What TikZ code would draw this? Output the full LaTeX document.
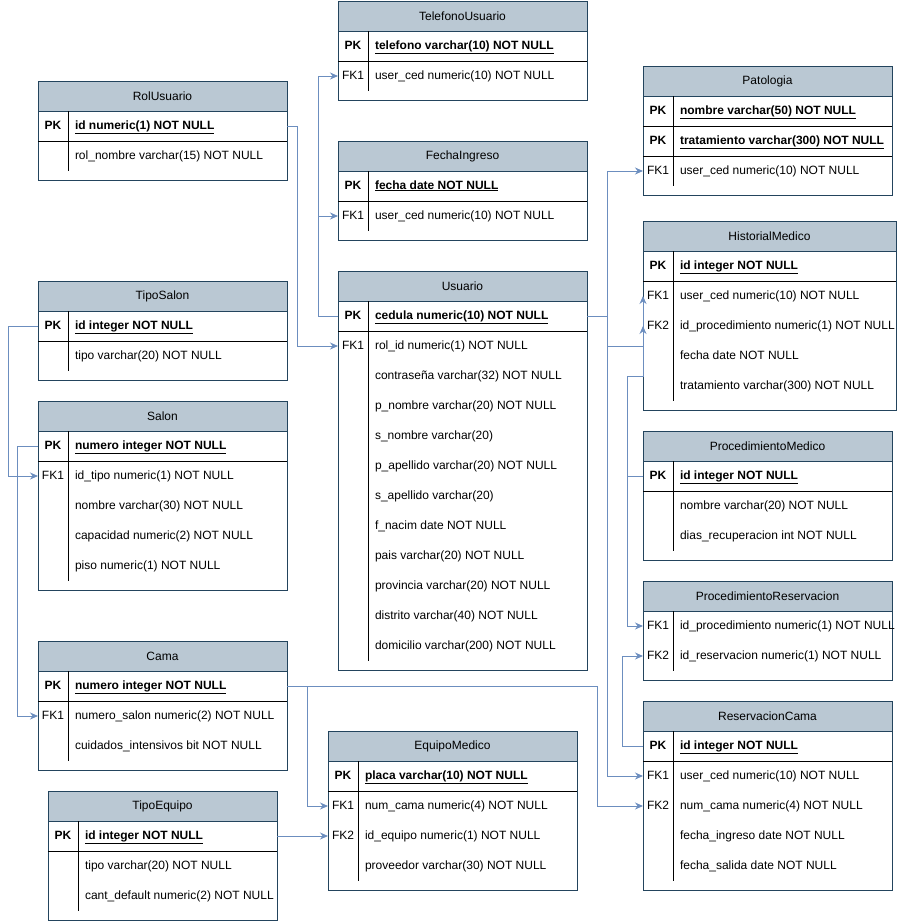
\documentclass[tikz,border=0pt]{standalone}
\usepackage{fontspec}
\setmainfont{Liberation Sans}
\usetikzlibrary{positioning,arrows.meta}

\definecolor{tblborder}{HTML}{23445D}
\definecolor{headfill}{HTML}{BAC8D3}
\definecolor{linkblue}{HTML}{6C8EBF}

\begin{document}
\begin{tikzpicture}[x=1pt, y=-1pt, font=\fontsize{12}{14}\selectfont,
  tbl/.style={draw=tblborder, fill=white, line width=1pt},
  head/.style={draw=tblborder, fill=headfill, line width=1pt, minimum height=30pt, inner sep=0pt, outer sep=0pt},
  key/.style={minimum width=30pt, minimum height=30pt, inner sep=0pt, outer sep=0pt, text height=9pt, text depth=3pt},
  cell/.style={inner xsep=7pt, inner ysep=0pt, outer sep=0pt, minimum height=30pt, text height=9pt, text depth=3pt},
  sep/.style={line width=1pt},
  link/.style={draw=linkblue, line width=1pt},
  linkarrow/.style={link, -{Stealth[length=8pt, width=7pt]}}]

\useasboundingbox (0,0) rectangle (898,921);

% TelefonoUsuario
\draw[tbl] (338,1) rectangle (587,100);
\node[head, minimum width=249pt] (telefono) at (462.5,16) {TelefonoUsuario};
\node[key, below=0pt of telefono.south west, anchor=north west] (telefono-pk) {\bfseries PK};
\node[cell, right=0pt of telefono-pk] (telefono-num) {\textbf{\underline{telefono varchar(10) NOT NULL}}};
\node[key, below=0pt of telefono-pk] (telefono-fk1) {FK1};
\node[cell, right=0pt of telefono-fk1] (telefono-ced) {user\_ced numeric(10) NOT NULL};
\draw[sep] (telefono-pk.south west) -- (telefono-pk.south west -| telefono.east);
\draw[sep] (telefono-pk.north east) -- (telefono-fk1.south east);

% RolUsuario
\draw[tbl] (38,81) rectangle (287,180);
\node[head, minimum width=249pt] (rol) at (162.5,96) {RolUsuario};
\node[key, below=0pt of rol.south west, anchor=north west] (rol-pk) {\bfseries PK};
\node[cell, right=0pt of rol-pk] (rol-id) {\textbf{\underline{id numeric(1) NOT NULL}}};
\node[key, below=0pt of rol-pk] (rol-r1) {};
\node[cell, right=0pt of rol-r1] (rol-nombre) {rol\_nombre varchar(15) NOT NULL};
\draw[sep] (rol-pk.south west) -- (rol-pk.south west -| rol.east);
\draw[sep] (rol-pk.north east) -- (rol-r1.south east);

% FechaIngreso
\draw[tbl] (338,141) rectangle (587,240);
\node[head, minimum width=249pt] (fecha) at (462.5,156) {FechaIngreso};
\node[key, below=0pt of fecha.south west, anchor=north west] (fecha-pk) {\bfseries PK};
\node[cell, right=0pt of fecha-pk] (fecha-date) {\textbf{\underline{fecha date NOT NULL}}};
\node[key, below=0pt of fecha-pk] (fecha-fk1) {FK1};
\node[cell, right=0pt of fecha-fk1] (fecha-ced) {user\_ced numeric(10) NOT NULL};
\draw[sep] (fecha-pk.south west) -- (fecha-pk.south west -| fecha.east);
\draw[sep] (fecha-pk.north east) -- (fecha-fk1.south east);

% Usuario
\draw[tbl] (338,271) rectangle (587,670);
\node[head, minimum width=249pt] (usuario) at (462.5,286) {Usuario};
\node[key, below=0pt of usuario.south west, anchor=north west] (usuario-pk) {\bfseries PK};
\node[cell, right=0pt of usuario-pk] (usuario-cedula) {\textbf{\underline{cedula numeric(10) NOT NULL}}};
\node[key, below=0pt of usuario-pk] (usuario-fk1) {FK1};
\node[cell, right=0pt of usuario-fk1] (usuario-rol) {rol\_id numeric(1) NOT NULL};
\node[key, below=0pt of usuario-fk1] (usuario-r2) {};
\node[cell, right=0pt of usuario-r2] (usuario-pass) {contraseña varchar(32) NOT NULL};
\node[key, below=0pt of usuario-r2] (usuario-r3) {};
\node[cell, right=0pt of usuario-r3] (usuario-pnom) {p\_nombre varchar(20) NOT NULL};
\node[key, below=0pt of usuario-r3] (usuario-r4) {};
\node[cell, right=0pt of usuario-r4] (usuario-snom) {s\_nombre varchar(20)};
\node[key, below=0pt of usuario-r4] (usuario-r5) {};
\node[cell, right=0pt of usuario-r5] (usuario-pape) {p\_apellido varchar(20) NOT NULL};
\node[key, below=0pt of usuario-r5] (usuario-r6) {};
\node[cell, right=0pt of usuario-r6] (usuario-sape) {s\_apellido varchar(20)};
\node[key, below=0pt of usuario-r6] (usuario-r7) {};
\node[cell, right=0pt of usuario-r7] (usuario-nacim) {f\_nacim date NOT NULL};
\node[key, below=0pt of usuario-r7] (usuario-r8) {};
\node[cell, right=0pt of usuario-r8] (usuario-pais) {pais varchar(20) NOT NULL};
\node[key, below=0pt of usuario-r8] (usuario-r9) {};
\node[cell, right=0pt of usuario-r9] (usuario-prov) {provincia varchar(20) NOT NULL};
\node[key, below=0pt of usuario-r9] (usuario-r10) {};
\node[cell, right=0pt of usuario-r10] (usuario-dist) {distrito varchar(40) NOT NULL};
\node[key, below=0pt of usuario-r10] (usuario-r11) {};
\node[cell, right=0pt of usuario-r11] (usuario-dom) {domicilio varchar(200) NOT NULL};
\draw[sep] (usuario-pk.south west) -- (usuario-pk.south west -| usuario.east);
\draw[sep] (usuario-pk.north east) -- (usuario-r11.south east);

% TipoSalon
\draw[tbl] (38,281) rectangle (287,380);
\node[head, minimum width=249pt] (tiposalon) at (162.5,296) {TipoSalon};
\node[key, below=0pt of tiposalon.south west, anchor=north west] (tiposalon-pk) {\bfseries PK};
\node[cell, right=0pt of tiposalon-pk] (tiposalon-id) {\textbf{\underline{id integer NOT NULL}}};
\node[key, below=0pt of tiposalon-pk] (tiposalon-r1) {};
\node[cell, right=0pt of tiposalon-r1] (tiposalon-tipo) {tipo varchar(20) NOT NULL};
\draw[sep] (tiposalon-pk.south west) -- (tiposalon-pk.south west -| tiposalon.east);
\draw[sep] (tiposalon-pk.north east) -- (tiposalon-r1.south east);

% Salon
\draw[tbl] (38,401) rectangle (287,590);
\node[head, minimum width=249pt] (salon) at (162.5,416) {Salon};
\node[key, below=0pt of salon.south west, anchor=north west] (salon-pk) {\bfseries PK};
\node[cell, right=0pt of salon-pk] (salon-num) {\textbf{\underline{numero integer NOT NULL}}};
\node[key, below=0pt of salon-pk] (salon-fk1) {FK1};
\node[cell, right=0pt of salon-fk1] (salon-tipo) {id\_tipo numeric(1) NOT NULL};
\node[key, below=0pt of salon-fk1] (salon-r2) {};
\node[cell, right=0pt of salon-r2] (salon-nombre) {nombre varchar(30) NOT NULL};
\node[key, below=0pt of salon-r2] (salon-r3) {};
\node[cell, right=0pt of salon-r3] (salon-cap) {capacidad numeric(2) NOT NULL};
\node[key, below=0pt of salon-r3] (salon-r4) {};
\node[cell, right=0pt of salon-r4] (salon-piso) {piso numeric(1) NOT NULL};
\draw[sep] (salon-pk.south west) -- (salon-pk.south west -| salon.east);
\draw[sep] (salon-pk.north east) -- (salon-r4.south east);

% Cama
\draw[tbl] (38,641) rectangle (287,770);
\node[head, minimum width=249pt] (cama) at (162.5,656) {Cama};
\node[key, below=0pt of cama.south west, anchor=north west] (cama-pk) {\bfseries PK};
\node[cell, right=0pt of cama-pk] (cama-num) {\textbf{\underline{numero integer NOT NULL}}};
\node[key, below=0pt of cama-pk] (cama-fk1) {FK1};
\node[cell, right=0pt of cama-fk1] (cama-salon) {numero\_salon numeric(2) NOT NULL};
\node[key, below=0pt of cama-fk1] (cama-r2) {};
\node[cell, right=0pt of cama-r2] (cama-cuid) {cuidados\_intensivos bit NOT NULL};
\draw[sep] (cama-pk.south west) -- (cama-pk.south west -| cama.east);
\draw[sep] (cama-pk.north east) -- (cama-r2.south east);

% TipoEquipo
\draw[tbl] (48,791) rectangle (277,920);
\node[head, minimum width=229pt] (tipoequipo) at (162.5,806) {TipoEquipo};
\node[key, below=0pt of tipoequipo.south west, anchor=north west] (tipoequipo-pk) {\bfseries PK};
\node[cell, right=0pt of tipoequipo-pk] (tipoequipo-id) {\textbf{\underline{id integer NOT NULL}}};
\node[key, below=0pt of tipoequipo-pk] (tipoequipo-r1) {};
\node[cell, right=0pt of tipoequipo-r1] (tipoequipo-tipo) {tipo varchar(20) NOT NULL};
\node[key, below=0pt of tipoequipo-r1] (tipoequipo-r2) {};
\node[cell, right=0pt of tipoequipo-r2] (tipoequipo-cant) {cant\_default numeric(2) NOT NULL};
\draw[sep] (tipoequipo-pk.south west) -- (tipoequipo-pk.south west -| tipoequipo.east);
\draw[sep] (tipoequipo-pk.north east) -- (tipoequipo-r2.south east);

% EquipoMedico
\draw[tbl] (328,731) rectangle (577,890);
\node[head, minimum width=249pt] (equipo) at (452.5,746) {EquipoMedico};
\node[key, below=0pt of equipo.south west, anchor=north west] (equipo-pk) {\bfseries PK};
\node[cell, right=0pt of equipo-pk] (equipo-placa) {\textbf{\underline{placa varchar(10) NOT NULL}}};
\node[key, below=0pt of equipo-pk] (equipo-fk1) {FK1};
\node[cell, right=0pt of equipo-fk1] (equipo-cama) {num\_cama numeric(4) NOT NULL};
\node[key, below=0pt of equipo-fk1] (equipo-fk2) {FK2};
\node[cell, right=0pt of equipo-fk2] (equipo-id) {id\_equipo numeric(1) NOT NULL};
\node[key, below=0pt of equipo-fk2] (equipo-r3) {};
\node[cell, right=0pt of equipo-r3] (equipo-prov) {proveedor varchar(30) NOT NULL};
\draw[sep] (equipo-pk.south west) -- (equipo-pk.south west -| equipo.east);
\draw[sep] (equipo-pk.north east) -- (equipo-r3.south east);

% Patologia
\draw[tbl] (643,66) rectangle (892,195);
\node[head, minimum width=249pt] (patologia) at (767.5,81) {Patologia};
\node[key, below=0pt of patologia.south west, anchor=north west] (patologia-pk1) {\bfseries PK};
\node[cell, right=0pt of patologia-pk1] (patologia-nombre) {\textbf{\underline{nombre varchar(50) NOT NULL}}};
\node[key, below=0pt of patologia-pk1] (patologia-pk2) {\bfseries PK};
\node[cell, right=0pt of patologia-pk2] (patologia-trat) {\textbf{\underline{tratamiento varchar(300) NOT NULL}}};
\node[key, below=0pt of patologia-pk2] (patologia-fk1) {FK1};
\node[cell, right=0pt of patologia-fk1] (patologia-ced) {user\_ced numeric(10) NOT NULL};
\draw[sep] (patologia-pk1.south west) -- (patologia-pk1.south west -| patologia.east);
\draw[sep] (patologia-pk2.south west) -- (patologia-pk2.south west -| patologia.east);
\draw[sep] (patologia-pk1.north east) -- (patologia-fk1.south east);

% HistorialMedico
\draw[tbl] (643,221) rectangle (896,410);
\node[head, minimum width=253pt] (historial) at (769.5,236) {HistorialMedico};
\node[key, below=0pt of historial.south west, anchor=north west] (historial-pk) {\bfseries PK};
\node[cell, right=0pt of historial-pk] (historial-id) {\textbf{\underline{id integer NOT NULL}}};
\node[key, below=0pt of historial-pk] (historial-fk1) {FK1};
\node[cell, right=0pt of historial-fk1] (historial-ced) {user\_ced numeric(10) NOT NULL};
\node[key, below=0pt of historial-fk1] (historial-fk2) {FK2};
\node[cell, right=0pt of historial-fk2] (historial-proc) {id\_procedimiento numeric(1) NOT NULL};
\node[key, below=0pt of historial-fk2] (historial-r3) {};
\node[cell, right=0pt of historial-r3] (historial-fecha) {fecha date NOT NULL};
\node[key, below=0pt of historial-r3] (historial-r4) {};
\node[cell, right=0pt of historial-r4] (historial-trat) {tratamiento varchar(300) NOT NULL};
\draw[sep] (historial-pk.south west) -- (historial-pk.south west -| historial.east);
\draw[sep] (historial-pk.north east) -- (historial-r4.south east);

% ProcedimientoMedico
\draw[tbl] (643,431) rectangle (892,560);
\node[head, minimum width=249pt] (procmed) at (767.5,446) {ProcedimientoMedico};
\node[key, below=0pt of procmed.south west, anchor=north west] (procmed-pk) {\bfseries PK};
\node[cell, right=0pt of procmed-pk] (procmed-id) {\textbf{\underline{id integer NOT NULL}}};
\node[key, below=0pt of procmed-pk] (procmed-r1) {};
\node[cell, right=0pt of procmed-r1] (procmed-nombre) {nombre varchar(20) NOT NULL};
\node[key, below=0pt of procmed-r1] (procmed-r2) {};
\node[cell, right=0pt of procmed-r2] (procmed-dias) {dias\_recuperacion int NOT NULL};
\draw[sep] (procmed-pk.south west) -- (procmed-pk.south west -| procmed.east);
\draw[sep] (procmed-pk.north east) -- (procmed-r2.south east);

% ProcedimientoReservacion
\draw[tbl] (643,581) rectangle (892,680);
\node[head, minimum width=249pt] (procres) at (767.5,596) {ProcedimientoReservacion};
\node[key, below=0pt of procres.south west, anchor=north west] (procres-fk1) {FK1};
\node[cell, right=0pt of procres-fk1] (procres-proc) {id\_procedimiento numeric(1) NOT NULL};
\node[key, below=0pt of procres-fk1] (procres-fk2) {FK2};
\node[cell, right=0pt of procres-fk2] (procres-res) {id\_reservacion numeric(1) NOT NULL};
\draw[sep] (procres-fk1.north east) -- (procres-fk2.south east);

% ReservacionCama
\draw[tbl] (643,701) rectangle (892,890);
\node[head, minimum width=249pt] (reserva) at (767.5,716) {ReservacionCama};
\node[key, below=0pt of reserva.south west, anchor=north west] (reserva-pk) {\bfseries PK};
\node[cell, right=0pt of reserva-pk] (reserva-id) {\textbf{\underline{id integer NOT NULL}}};
\node[key, below=0pt of reserva-pk] (reserva-fk1) {FK1};
\node[cell, right=0pt of reserva-fk1] (reserva-ced) {user\_ced numeric(10) NOT NULL};
\node[key, below=0pt of reserva-fk1] (reserva-fk2) {FK2};
\node[cell, right=0pt of reserva-fk2] (reserva-cama) {num\_cama numeric(4) NOT NULL};
\node[key, below=0pt of reserva-fk2] (reserva-r3) {};
\node[cell, right=0pt of reserva-r3] (reserva-ing) {fecha\_ingreso date NOT NULL};
\node[key, below=0pt of reserva-r3] (reserva-r4) {};
\node[cell, right=0pt of reserva-r4] (reserva-sal) {fecha\_salida date NOT NULL};
\draw[sep] (reserva-pk.south west) -- (reserva-pk.south west -| reserva.east);
\draw[sep] (reserva-pk.north east) -- (reserva-r4.south east);

% relations
\draw[linkarrow] (rol-pk -| rol.east) -- ++(10,0) |- (usuario-fk1.west);
\draw[linkarrow] (usuario-pk.west) -- ++(-20,0) |- (telefono-fk1.west);
\draw[linkarrow] (usuario-pk.west) -- ++(-20,0) |- (fecha-fk1.west);
\draw[linkarrow] (usuario-pk -| usuario.east) -- ++(20,0) |- (patologia-fk1.west);
\draw[linkarrow] (usuario-pk -| usuario.east) -- ++(20,0) -- ++(0,30) -| (historial-fk1.west);
\draw[linkarrow] (usuario-pk -| usuario.east) -- ++(20,0) |- (reserva-fk1.west);
\draw[linkarrow] (procmed-pk.west) -- ++(-16,0) -- ++(0,-100) -| (historial-fk2.west);
\draw[linkarrow] (procmed-pk.west) -- ++(-16,0) |- (procres-fk1.west);
\draw[linkarrow] (reserva-pk.west) -- ++(-21,0) |- (procres-fk2.west);
\draw[linkarrow] (cama-pk -| cama.east) -- ++(310,0) |- (reserva-fk2.west);
\draw[linkarrow] (cama-pk -| cama.east) -- ++(20,0) |- (equipo-fk1.west);
\draw[linkarrow] (tipoequipo-pk -| tipoequipo.east) -- (equipo-fk2.west);
\draw[linkarrow] (tiposalon-pk.west) -- ++(-30,0) |- (salon-fk1.west);
\draw[linkarrow] (salon-pk.west) -- ++(-21,0) |- (cama-fk1.west);

\end{tikzpicture}
\end{document}
